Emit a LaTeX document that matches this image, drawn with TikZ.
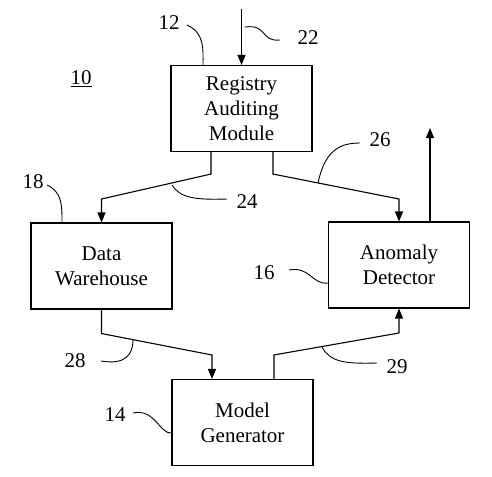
\documentclass[tikz,border=0pt]{standalone}
\usepackage{fontspec}
\setmainfont{Liberation Serif}
\usetikzlibrary{arrows.meta}
\begin{document}
\begin{tikzpicture}[x=1pt,y=-1pt,
  box/.style={draw,line width=1.1pt,minimum width=141pt,minimum height=86pt,inner sep=0pt,align=center,font=\fontsize{21}{25}\selectfont},
  lbl/.style={inner sep=0pt,font=\fontsize{21}{25}\selectfont},
  flow/.style={line width=1.1pt,-{Triangle[length=10pt,width=8pt]}},
  lead/.style={line width=0.9pt}]
\useasboundingbox (0,0) rectangle (492,476);
\node[box] (reg) at (241.5,108.5) {Registry\\Auditing\\Module};
\node[box] (dw) at (101.5,266) {Data\\Warehouse};
\node[box] (ad) at (399,265) {Anomaly\\Detector};
\node[box] (mg) at (242.5,422.5) {Model\\Generator};
\coordinate (in) at (241.5,9);
\coordinate (out) at (430,128);
% flows
\draw[flow] (in) -- (reg.north);
\draw[flow] ([xshift=-30.5pt]reg.south) -- ++(0,22) -- (dw.north |- 0,199) -- (dw.north);
\draw[flow] ([xshift=31.5pt]reg.south) -- ++(0,22) -- (ad.north |- 0,199) -- (ad.north);
\draw[flow] (ad.north -| out) -- (out);
\draw[flow] (dw.south) -- ++(0,24) -- ([xshift=-30.5pt]mg.north |- 0,355) -- ([xshift=-30.5pt]mg.north);
\draw[flow] ([xshift=31.5pt]mg.north) -- ++(0,-24) -- (ad.south |- 0,333) -- (ad.south);
% labels
\node[lbl] (l10) at (81,79) {\underline{10}};
\node[lbl] (l12) at (169,23) {12};
\node[lbl] (l22) at (308,38) {22};
\node[lbl] (l18) at (33,182) {18};
\node[lbl] (l24) at (247,202) {24};
\node[lbl] (l26) at (380,140) {26};
\node[lbl] (l16) at (264,273) {16};
\node[lbl] (l28) at (75,361) {28};
\node[lbl] (l29) at (397,367) {29};
\node[lbl] (l14) at (115,415) {14};
% leaders
\draw[lead] (245,27) .. controls (268,24) and (260,42) .. (280,40);
\draw[lead] (187,25) .. controls (205,33) and (203,50) .. (203,65);
\draw[lead] (47,185) .. controls (62,192) and (62,205) .. (62,222);
\draw[lead] (172,185) .. controls (180,198) and (195,200) .. (227,199);
\draw[lead] (318,183) .. controls (325,150) and (340,143) .. (360,143);
\draw[lead] (289,270) .. controls (310,266) and (312,285) .. (328,283);
\draw[lead] (101,361) .. controls (125,365) and (133,355) .. (133,340);
\draw[lead] (322,347) .. controls (330,362) and (345,364) .. (377,363);
\draw[lead] (133,413) .. controls (155,408) and (160,435) .. (172,433);
\end{tikzpicture}
\end{document}
